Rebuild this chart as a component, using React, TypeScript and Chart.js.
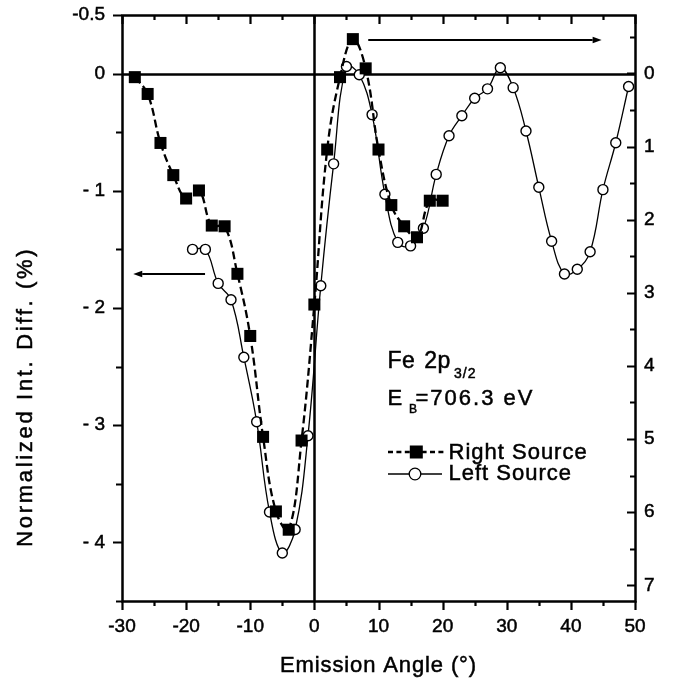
import React, { useEffect, useRef } from 'react';
import { Chart, registerables } from 'chart.js';

Chart.register(...registerables);

const FONT = '"Liberation Sans", Arial, Helvetica, sans-serif';

// Right Source (filled squares, dashed) — plotted against the right axis
const rightSourceAngles = [-28, -26, -24, -22, -20, -18, -16, -14, -12, -10, -8, -6, -4, -2, 0, 2, 4, 6, 8, 10, 12, 14, 16, 18, 20];
const rightSourceValues = [0.05, 0.28, 0.95, 1.39, 1.71, 1.6, 2.08, 2.09, 2.74, 3.59, 4.97, 5.99, 6.24, 5.02, 3.16, 1.04, 0.05, -0.47, -0.07, 1.04, 1.8, 2.09, 2.24, 1.74, 1.74];

// Left Source (open circles, solid) — plotted against the left axis
const leftSourceAngles = [-19, -17, -15, -13, -11, -9, -7, -5, -3, -1, 1, 3, 5, 7, 9, 11, 13, 15, 17, 19, 21, 23, 25, 27, 29, 31, 33, 35, 37, 39, 41, 43, 45, 47, 49];
const leftSourceValues = [-1.5, -1.5, -1.79, -1.93, -2.42, -2.97, -3.74, -4.09, -3.89, -3.09, -1.81, -0.77, 0.06, -0.01, -0.35, -1.03, -1.44, -1.47, -1.32, -0.86, -0.53, -0.36, -0.21, -0.13, 0.05, -0.12, -0.49, -0.97, -1.43, -1.71, -1.67, -1.52, -0.99, -0.59, -0.11];

const xTickValues = [-30, -20, -10, 0, 10, 20, 30, 40, 50];
const xTickLabels = ['-30', '-20', '-10', '0', '10', '20', '30', '40', '50'];
const leftTickValues = [0.5, 0, -1, -2, -3, -4];
const leftTickLabels = ['-0.5', '0', '- 1', '- 2', '- 3', '- 4'];
const rightTickValues = [0, 1, 2, 3, 4, 5, 6, 7];
const rightTickLabels = ['0', '1', '2', '3', '4', '5', '6', '7'];

const xTitle = 'Emission Angle (°)';
const yTitle = 'Normalized Int. Diff. (%)';
const legendLabels = ['Right Source', 'Left Source'];
const annotation1 = ['Fe 2p', '3/2'];
const annotation2 = ['E', 'B', '=706.3 eV'];

const TEXT_STROKE = 0.5;

function setText(ctx: any, size: number, spacing: number, wordSpacing = 0) {
  ctx.font = `${size}px ${FONT}`;
  ctx.letterSpacing = `${spacing}px`;
  ctx.wordSpacing = `${wordSpacing}px`;
  ctx.textBaseline = 'alphabetic';
  ctx.fillStyle = '#000';
  ctx.strokeStyle = '#000';
}

function text(ctx: any, s: string, x: number, y: number) {
  ctx.save();
  ctx.lineWidth = TEXT_STROKE;
  ctx.setLineDash([]);
  ctx.strokeText(s, x, y);
  ctx.restore();
  ctx.fillText(s, x, y);
}

function arrow(ctx: any, x1: number, y: number, x2: number) {
  const dir = Math.sign(x2 - x1);
  const head = 9;
  ctx.beginPath();
  ctx.moveTo(x1, y);
  ctx.lineTo(x2 - dir * head, y);
  ctx.stroke();
  ctx.beginPath();
  ctx.moveTo(x2, y);
  ctx.lineTo(x2 - dir * head, y - 3.3);
  ctx.lineTo(x2 - dir * head, y + 3.3);
  ctx.closePath();
  ctx.fill();
}

const LW = 2.5;

const decorPlugin = {
  id: 'decor',
  beforeDatasetsDraw(chart: any) {
    const { ctx, chartArea: a, scales } = chart;
    ctx.save();
    ctx.strokeStyle = '#000';
    ctx.lineWidth = LW;
    const y0 = Math.round(scales.yL.getPixelForValue(0)) + 0.5;
    const x0 = Math.round(scales.x.getPixelForValue(0)) + 0.5;
    ctx.beginPath();
    ctx.moveTo(a.left, y0);
    ctx.lineTo(a.right, y0);
    ctx.moveTo(x0, a.top);
    ctx.lineTo(x0, a.bottom);
    ctx.stroke();
    ctx.restore();
  },
  afterDraw(chart: any) {
    const { ctx, chartArea: a, scales } = chart;
    const sx = scales.x, yl = scales.yL, yr = scales.yR;
    ctx.save();
    ctx.strokeStyle = '#000';
    ctx.fillStyle = '#000';
    ctx.lineWidth = LW;
    // frame
    ctx.strokeRect(Math.round(a.left) + 0.5, Math.round(a.top) + 0.5, Math.round(a.right - a.left), Math.round(a.bottom - a.top));
    // tick marks
    ctx.lineWidth = 2.2;
    ctx.beginPath();
    for (let v = -30; v <= 50; v += 5) {
      const p = Math.round(sx.getPixelForValue(v)) + 0.5;
      const major = v % 10 === 0;
      ctx.moveTo(p, a.bottom);
      ctx.lineTo(p, a.bottom + (major ? 9 : 5));
      ctx.moveTo(p, a.top);
      ctx.lineTo(p, a.top + (major ? 9 : 5));
    }
    for (let v = -4.5; v <= 0.5001; v += 0.5) {
      const p = Math.round(yl.getPixelForValue(v)) + 0.5;
      const major = Number.isInteger(v) || Math.abs(v - 0.5) < 1e-6;
      ctx.moveTo(a.left - (major ? 9 : 6), p);
      ctx.lineTo(a.left, p);
    }
    for (let v = -0.5; v <= 7.0001; v += 0.5) {
      const p = Math.round(yr.getPixelForValue(v)) + 0.5;
      const major = Number.isInteger(v);
      ctx.moveTo(a.right - (major ? 8 : 5), p);
      ctx.lineTo(a.right, p);
    }
    ctx.stroke();

    // arrows
    ctx.lineWidth = 2;
    arrow(ctx, sx.getPixelForValue(-17.05), Math.round(yl.getPixelForValue(-1.71)), sx.getPixelForValue(-28.25));
    arrow(ctx, sx.getPixelForValue(8.4), Math.round(yr.getPixelForValue(-0.46)), sx.getPixelForValue(44.8));

    // annotation text
    ctx.textAlign = 'left';
    setText(ctx, 23, 0.5, 2);
    text(ctx, annotation1[0], 387.5, 367.5);
    setText(ctx, 14, 1);
    text(ctx, annotation1[1], 454, 378.3);
    setText(ctx, 22, 1);
    text(ctx, annotation2[0], 387.5, 405);
    setText(ctx, 12, 0);
    text(ctx, annotation2[1], 409, 413.3);
    setText(ctx, 22, 2);
    text(ctx, annotation2[2], 415.5, 405);

    // legend row 1 (dashed + square)
    const r1 = 452, r2 = 474;
    ctx.save();
    ctx.lineWidth = 2.3;
    ctx.setLineDash([5, 3.4]);
    ctx.beginPath();
    ctx.moveTo(388, r1);
    ctx.lineTo(445, r1);
    ctx.stroke();
    ctx.restore();
    ctx.fillRect(416.3 - 6.5, r1 - 6.5, 13, 13);
    // legend row 2 (solid + circle)
    ctx.lineWidth = 1.3;
    ctx.beginPath();
    ctx.moveTo(388, r2);
    ctx.lineTo(442, r2);
    ctx.stroke();
    ctx.beginPath();
    ctx.arc(415, r2, 5.8, 0, Math.PI * 2);
    ctx.fillStyle = '#fff';
    ctx.fill();
    ctx.stroke();
    setText(ctx, 22, 1);
    text(ctx, legendLabels[0], 448.5, 459);
    text(ctx, legendLabels[1], 448.5, 480);

    // axis titles
    setText(ctx, 22, 0);
    const wx = ctx.measureText(xTitle).width;
    setText(ctx, 22, Math.max(0, (197 - wx) / xTitle.length));
    ctx.textAlign = 'center';
    text(ctx, xTitle, (a.left + a.right) / 2, 671.7);

    setText(ctx, 22, 0);
    const wy = ctx.measureText(yTitle).width;
    setText(ctx, 22, Math.max(0, (300 - wy) / yTitle.length));
    ctx.translate(31.7, 396.7);
    ctx.rotate(-Math.PI / 2);
    ctx.textAlign = 'center';
    text(ctx, yTitle, 0, 0);
    ctx.restore();
  },
};

function noPad(s: any) {
  s.paddingTop = 0;
  s.paddingBottom = 0;
  s.paddingLeft = 0;
  s.paddingRight = 0;
}

export default function App() {
  const ref = useRef<HTMLCanvasElement | null>(null);

  useEffect(() => {
    if (!ref.current) return;
    const tickFont = { family: FONT, size: 19 };
    const tickCommon = {
      font: tickFont,
      color: '#000',
      textStrokeColor: '#000',
      textStrokeWidth: TEXT_STROKE,
      autoSkip: false,
    };
    const chart = new Chart(ref.current, {
      type: 'scatter',
      data: {
        datasets: [
          {
            label: legendLabels[0],
            data: rightSourceAngles.map((x, i) => ({ x, y: rightSourceValues[i] })),
            yAxisID: 'yR',
            showLine: true,
            borderColor: '#000',
            borderWidth: 2.3,
            borderDash: [8, 4],
            tension: 0.4,
            pointStyle: 'rect',
            pointRadius: 8.5,
            pointBackgroundColor: '#000',
            pointBorderColor: '#000',
            pointBorderWidth: 0,
            fill: false,
          },
          {
            label: legendLabels[1],
            data: leftSourceAngles.map((x, i) => ({ x, y: leftSourceValues[i] })),
            yAxisID: 'yL',
            showLine: true,
            borderColor: '#000',
            borderWidth: 1.3,
            tension: 0.4,
            pointStyle: 'circle',
            pointRadius: 5,
            pointBackgroundColor: '#fff',
            pointBorderColor: '#000',
            pointBorderWidth: 1.4,
            fill: false,
          },
        ],
      },
      options: {
        animation: false,
        responsive: false,
        devicePixelRatio: 1,
        layout: { padding: { top: 15, left: 0, right: 0, bottom: 0 } },
        plugins: { legend: { display: false }, tooltip: { enabled: false } },
        scales: {
          x: {
            type: 'linear',
            position: 'bottom',
            min: -30,
            max: 50,
            afterFit: (s: any) => { s.height = 78; noPad(s); },
            afterBuildTicks: (s: any) => { s.ticks = xTickValues.map((v) => ({ value: v })); },
            ticks: {
              ...tickCommon,
              callback: (_v: any, i: number) => xTickLabels[i],
              padding: 14,
              maxRotation: 0,
            },
            grid: { display: false, drawTicks: false },
            border: { display: false },
          },
          yL: {
            type: 'linear',
            position: 'left',
            min: -4.5,
            max: 0.5,
            afterFit: (s: any) => { s.width = 122; noPad(s); },
            afterBuildTicks: (s: any) => { s.ticks = leftTickValues.map((v) => ({ value: v })); },
            ticks: {
              ...tickCommon,
              callback: (_v: any, i: number) => leftTickLabels[i],
              padding: 17,
            },
            grid: { display: false, drawTicks: false },
            border: { display: false },
          },
          yR: {
            type: 'linear',
            position: 'right',
            reverse: true,
            min: -0.8,
            max: 7.215,
            afterFit: (s: any) => { s.width = 38; noPad(s); },
            afterBuildTicks: (s: any) => { s.ticks = rightTickValues.map((v) => ({ value: v })); },
            ticks: {
              ...tickCommon,
              callback: (_v: any, i: number) => rightTickLabels[i],
              padding: 9,
            },
            grid: { display: false, drawTicks: false },
            border: { display: false },
          },
        },
      },
      plugins: [decorPlugin],
    } as any);
    return () => chart.destroy();
  }, []);

  return (
    <div style={{ position: 'absolute', left: 0, top: 0, width: 673, height: 679, background: '#fff' }}>
      <canvas ref={ref} width={673} height={679} style={{ display: 'block' }} />
    </div>
  );
}
